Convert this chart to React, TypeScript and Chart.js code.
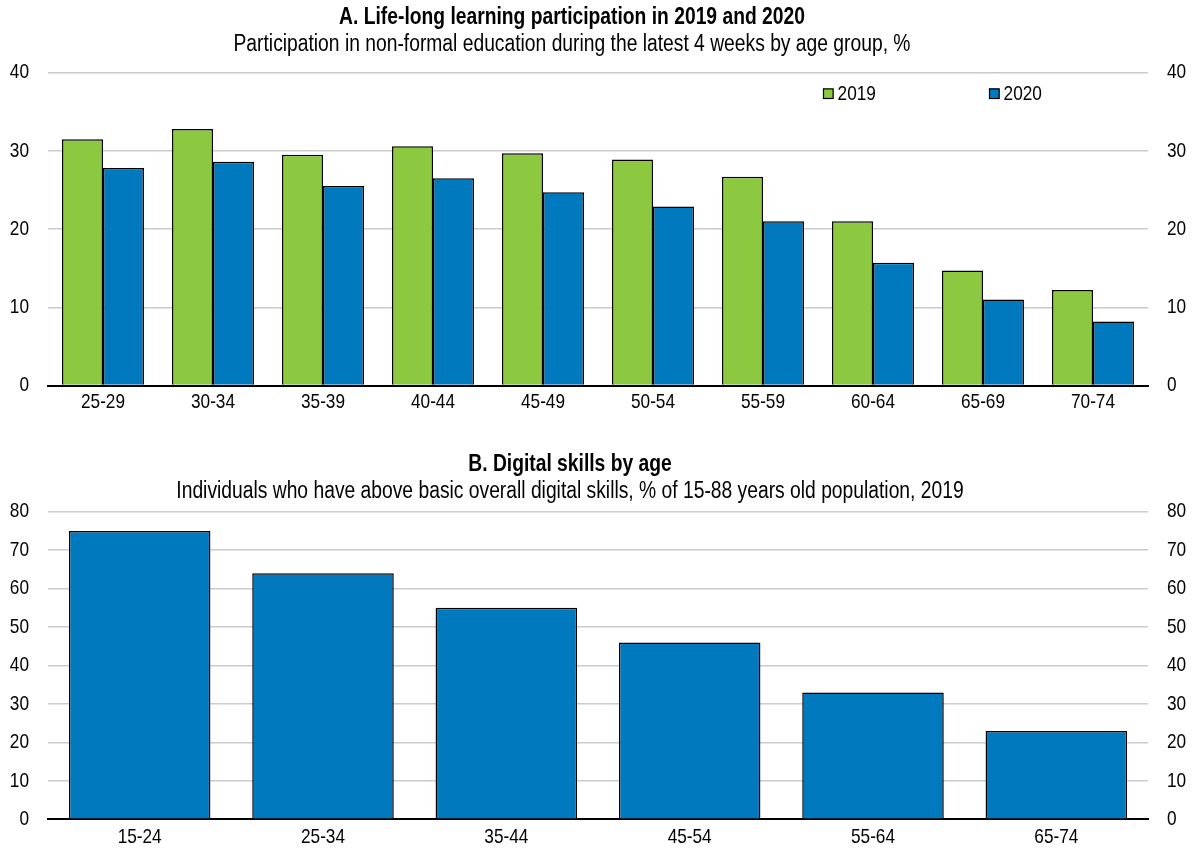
import React, { useEffect, useRef } from 'react';
import { Chart, registerables } from 'chart.js';

Chart.register(...registerables);

const FONT = "'Liberation Sans', Arial, sans-serif";
// Horizontal squeeze applied to all canvas text to mimic a narrow (Arial Narrow-like) face
const NARROW = 0.82;

// Panel A data
const ageGroupsA = ['25-29', '30-34', '35-39', '40-44', '45-49', '50-54', '55-59', '60-64', '65-69', '70-74'];
const values2019 = [31.5, 32.8, 29.5, 30.6, 29.7, 28.9, 26.7, 21.0, 14.7, 12.2];
const values2020 = [27.8, 28.6, 25.5, 26.5, 24.7, 22.9, 21.0, 15.7, 11.0, 8.2];
const seriesLabelsA = ['2019', '2020'];
const titleA = 'A. Life-long learning participation in 2019 and 2020';
const subtitleA = 'Participation in non-formal education during the latest 4 weeks by age group, %';
const axisA = { min: 0, max: 40, step: 10 };

// Panel B data
const ageGroupsB = ['15-24', '25-34', '35-44', '45-54', '55-64', '65-74'];
const digitalSkills = [75, 64, 55, 46, 33, 23];
const seriesLabelB = 'Digital skills';
const titleB = 'B. Digital skills by age';
const subtitleB = 'Individuals who have above basic overall digital skills, % of 15-88 years old population, 2019';
const axisB = { min: 0, max: 80, step: 10 };

const GREEN = '#8CC840';
const BLUE = '#0079BF';
const GRID = '#cbcbcb';

function condenseContext(canvas: HTMLCanvasElement) {
  const ctx: any = canvas.getContext('2d');
  if (!ctx || ctx.__condensed) return;
  ctx.__condensed = true;
  const origFill = ctx.fillText.bind(ctx);
  const origMeasure = ctx.measureText.bind(ctx);
  ctx.fillText = (text: string, x: number, y: number, maxWidth?: number) => {
    ctx.save();
    ctx.translate(x, y);
    ctx.scale(NARROW, 1);
    if (maxWidth !== undefined && maxWidth !== null) origFill(text, 0, 0, maxWidth / NARROW);
    else origFill(text, 0, 0);
    ctx.restore();
  };
  ctx.measureText = (text: string) => {
    const m = origMeasure(text);
    return {
      width: m.width * NARROW,
      actualBoundingBoxAscent: m.actualBoundingBoxAscent,
      actualBoundingBoxDescent: m.actualBoundingBoxDescent,
      actualBoundingBoxLeft: m.actualBoundingBoxLeft * NARROW,
      actualBoundingBoxRight: m.actualBoundingBoxRight * NARROW,
      fontBoundingBoxAscent: m.fontBoundingBoxAscent,
      fontBoundingBoxDescent: m.fontBoundingBoxDescent,
    };
  };
}

const headingPlugin = {
  id: 'heading',
  afterDraw(chart: any, _args: any, opts: any) {
    if (!opts || !opts.title) return;
    const ctx = chart.ctx;
    ctx.save();
    ctx.fillStyle = '#000';
    ctx.textAlign = 'center';
    ctx.textBaseline = 'middle';
    ctx.font = `bold ${opts.size}px ${FONT}`;
    ctx.fillText(opts.title, opts.x, opts.titleY);
    ctx.font = `${opts.size}px ${FONT}`;
    ctx.fillText(opts.subtitle, opts.x, opts.subtitleY);
    ctx.restore();
  },
};

const inlineLegend = {
  id: 'inlineLegend',
  afterDraw(chart: any, _args: any, opts: any) {
    if (!opts || !opts.positions) return;
    const ctx = chart.ctx;
    ctx.save();
    chart.data.datasets.forEach((ds: any, i: number) => {
      const x = opts.positions[i];
      const y = opts.y;
      const s = opts.box;
      ctx.fillStyle = ds.backgroundColor;
      ctx.fillRect(x, y - s / 2, s, s);
      ctx.strokeStyle = '#000';
      ctx.lineWidth = 1.2;
      ctx.strokeRect(x + 0.5, y - s / 2 + 0.5, s - 1, s - 1);
      ctx.fillStyle = '#000';
      ctx.font = `${opts.fontSize}px ${FONT}`;
      ctx.textBaseline = 'middle';
      ctx.textAlign = 'left';
      ctx.fillText(ds.label, x + s + 4, y + 0.5);
    });
    ctx.restore();
  },
};

function buildOptions(cfg: any) {
  const tickFont = { family: FONT, size: 21 };
  return {
    responsive: false,
    animation: false,
    layout: { padding: { top: cfg.plotTop, left: 0, right: 0, bottom: 0 } },
    events: [],
    plugins: {
      legend: { display: false },
      tooltip: { enabled: false },
      title: { display: false },
      heading: cfg.heading,
      inlineLegend: cfg.legend || false,
    },
    scales: {
      x: {
        grid: { display: false, drawTicks: false },
        border: { display: true, color: '#000', width: 2 },
        ticks: { color: '#000', font: tickFont, padding: cfg.xPad, maxRotation: 0, autoSkip: false },
        afterFit: (s: any) => { s.height = cfg.xHeight; },
      },
      y: {
        position: 'left',
        min: cfg.axis.min,
        max: cfg.axis.max,
        grid: {
          drawTicks: false,
          lineWidth: 1.6,
          color: (c: any) => (c.tick && c.tick.value === 0 ? 'rgba(0,0,0,0)' : GRID),
        },
        border: { display: false },
        ticks: { stepSize: cfg.axis.step, color: '#000', font: tickFont, padding: 19 },
        afterFit: (s: any) => { s.width = 48; },
      },
      y2: {
        position: 'right',
        min: cfg.axis.min,
        max: cfg.axis.max,
        grid: { display: false, drawTicks: false },
        border: { display: false },
        ticks: { stepSize: cfg.axis.step, color: '#000', font: tickFont, padding: 19 },
        afterFit: (s: any) => { s.width = 47; },
      },
    },
  };
}

function BarPanel(props: any) {
  const ref = useRef<HTMLCanvasElement>(null);
  useEffect(() => {
    if (!ref.current) return;
    condenseContext(ref.current);
    const chart = new Chart(ref.current, {
      type: 'bar',
      data: props.data,
      options: buildOptions(props.cfg) as any,
      plugins: [headingPlugin, inlineLegend],
    });
    return () => chart.destroy();
  }, []);
  return (
    <div style={{ width: 1195, height: props.height }}>
      <canvas ref={ref} width={1195} height={props.height} style={{ display: 'block' }} />
    </div>
  );
}

export default function App() {
  const barStyle = { borderColor: '#000', borderWidth: 1.5, barPercentage: 1 };
  const dataA = {
    labels: ageGroupsA,
    datasets: [
      { label: seriesLabelsA[0], data: values2019, backgroundColor: GREEN, categoryPercentage: 0.745, ...barStyle },
      { label: seriesLabelsA[1], data: values2020, backgroundColor: BLUE, categoryPercentage: 0.745, ...barStyle },
    ],
  };
  const dataB = {
    labels: ageGroupsB,
    datasets: [
      { label: seriesLabelB, data: digitalSkills, backgroundColor: BLUE, categoryPercentage: 0.772, ...barStyle },
    ],
  };
  const cfgA = {
    axis: axisA,
    plotTop: 72.7, xPad: 4.5, xHeight: 44.5,
    heading: { title: titleA, subtitle: subtitleA, x: 572, titleY: 18, subtitleY: 45, size: 23.5 },
    legend: { positions: [823, 989], y: 93.7, box: 10.6, fontSize: 21 },
  };
  const cfgB = {
    axis: axisB,
    plotTop: 81.7, xPad: 5, xHeight: 29,
    heading: { title: titleB, subtitle: subtitleB, x: 570, titleY: 35, subtitleY: 62, size: 23.5 },
  };
  return (
    <div style={{ position: 'absolute', left: 0, top: 0, width: 1195, height: 851, background: '#fff' }}>
      <BarPanel data={dataA} cfg={cfgA} height={430} />
      <BarPanel data={dataB} cfg={cfgB} height={421} />
    </div>
  );
}
